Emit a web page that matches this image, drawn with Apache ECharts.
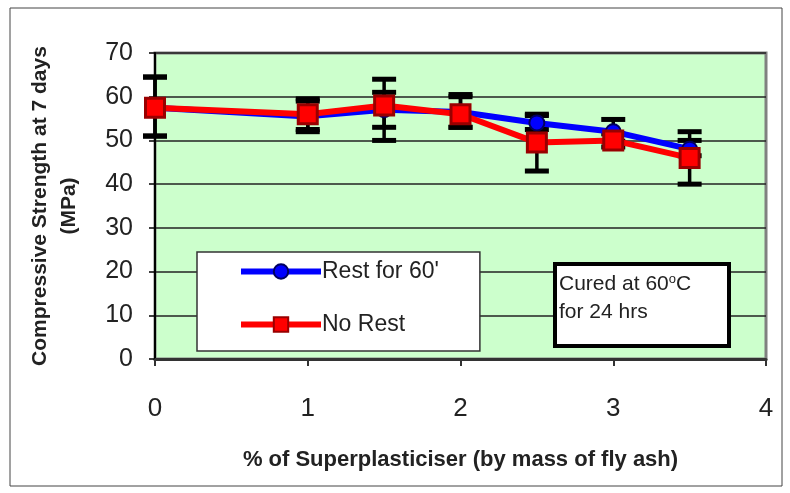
<!DOCTYPE html>
<html>
<head>
<meta charset="utf-8">
<script src="https://cdn.jsdelivr.net/npm/echarts@6/dist/echarts.min.js"></script>
<style>html,body{margin:0;padding:0;background:#fff;}#c{width:790px;height:493px;}</style>
</head>
<body>
<div id="c"></div>
<script>
var xValues = [0, 1, 1.5, 2, 2.5, 3, 3.5];
var restValues = [57.5, 55.5, 57, 56.5, 54, 52, 48];
var noRestValues = [57.5, 56, 58, 56, 49.5, 50, 46];
var restLow = [51, 52, 53, 53, 52.5, 49.8, 46.5];
var restHigh = [64.5, 59.5, 61, 60.5, 55.7, 54.8, 52];
var noRestLow = [51, 52.5, 50, 53, 43, 48.5, 40];
var noRestHigh = [64.5, 59, 64, 60, 56, 51.5, 50];
var xTicks = [0, 1, 2, 3, 4];
var yTicks = [0, 10, 20, 30, 40, 50, 60, 70];

var FONT = 'Liberation Sans, Arial, sans-serif';

function pairs(xs, ys) { return xs.map(function (x, i) { return [x, ys[i]]; }); }
function errData(xs, lo, hi) { return xs.map(function (x, i) { return [x, lo[i], hi[i]]; }); }

function renderErr(params, api) {
  var x = api.value(0), lo = api.value(1), hi = api.value(2);
  var pHi = api.coord([x, hi]);
  var pLo = api.coord([x, lo]);
  var hw = 12;
  return {
    type: 'group',
    children: [
      { type: 'line', shape: { x1: pHi[0], y1: pHi[1], x2: pLo[0], y2: pLo[1] }, style: { stroke: '#000', lineWidth: 3.5 } },
      { type: 'line', shape: { x1: pHi[0] - hw, y1: pHi[1], x2: pHi[0] + hw, y2: pHi[1] }, style: { stroke: '#000', lineWidth: 5 } },
      { type: 'line', shape: { x1: pLo[0] - hw, y1: pLo[1], x2: pLo[0] + hw, y2: pLo[1] }, style: { stroke: '#000', lineWidth: 5 } }
    ]
  };
}

var chart = echarts.init(document.getElementById('c'), null, { renderer: 'canvas' });
chart.setOption({
  animation: false,
  backgroundColor: '#fff',
  grid: { left: 155, right: 24, top: 53, bottom: 134, outerBoundsMode: 'none', containLabel: false, show: true, backgroundColor: '#CCFFCC', borderColor: '#808080', borderWidth: 3 },
  xAxis: {
    type: 'value', min: 0, max: 4, interval: 1,
    name: '% of Superplasticiser (by mass of fly ash)', nameLocation: 'middle', nameGap: 90,
    nameTextStyle: { fontFamily: FONT, fontSize: 22, fontWeight: 'bold', color: '#222' },
    axisLine: { lineStyle: { color: '#333', width: 3 } },
    axisTick: { show: true, length: 7, lineStyle: { color: '#333', width: 2 } },
    axisLabel: { margin: 37, fontFamily: FONT, fontSize: 26, color: '#222',
      formatter: function (v) { return xTicks.indexOf(v) >= 0 ? String(v) : ''; } },
    splitLine: { show: false }
  },
  yAxis: {
    type: 'value', min: 0, max: 70, interval: 10,
    name: 'Compressive Strength at 7 days\n(MPa)', nameLocation: 'middle', nameGap: 71, nameRotate: 90,
    nameTextStyle: { fontFamily: FONT, fontSize: 21, fontWeight: 'bold', color: '#222', lineHeight: 29 },
    axisLine: { show: true, lineStyle: { color: '#000', width: 2 } },
    axisTick: { show: true, length: 6, lineStyle: { color: '#000', width: 1.5 } },
    axisLabel: { margin: 22, fontFamily: FONT, fontSize: 25, color: '#222',
      formatter: function (v) { return yTicks.indexOf(v) >= 0 ? String(v) : ''; } },
    splitLine: { show: true, lineStyle: { color: '#222', width: 1.5 } }
  },
  legend: {
    orient: 'vertical', left: 197, top: 252,
    backgroundColor: '#fff', borderColor: '#333', borderWidth: 1.5,
    padding: [8, 41, 15, 41], itemGap: 30, itemWidth: 80, itemHeight: 18,
    lineStyle: { width: 6 },
    textStyle: { fontFamily: FONT, fontSize: 23, color: '#222', padding: [0, 0, 0, -4] },
    data: ["Rest for 60'", 'No Rest']
  },
  series: [
    { name: 'errRest', type: 'custom', renderItem: renderErr, data: errData(xValues, restLow, restHigh), z: 2, encode: { x: 0, y: [1, 2] }, silent: true },
    { name: 'errNoRest', type: 'custom', renderItem: renderErr, data: errData(xValues, noRestLow, noRestHigh), z: 2, encode: { x: 0, y: [1, 2] }, silent: true },
    {
      name: "Rest for 60'", type: 'line', data: pairs(xValues, restValues), z: 3,
      symbol: 'circle', symbolSize: 15,
      lineStyle: { color: '#0000FF', width: 6 },
      itemStyle: { color: '#0000FF', borderColor: '#000060', borderWidth: 2 }
    },
    {
      name: 'No Rest', type: 'line', data: pairs(xValues, noRestValues), z: 4,
      symbol: 'rect', symbolSize: 19,
      lineStyle: { color: '#FF0000', width: 6 },
      itemStyle: { color: '#FF0000', borderColor: '#990000', borderWidth: 3 }
    }
  ],
  graphic: [
    { type: 'rect', shape: { x: 10, y: 8, width: 772, height: 478 }, style: { fill: 'none', stroke: '#444', lineWidth: 1 }, z: 100, silent: true },
    { type: 'rect', shape: { x: 555, y: 264, width: 174, height: 82 }, style: { fill: '#fff', stroke: '#000', lineWidth: 4 }, z: 50 },
    { type: 'text', x: 559, y: 273, z: 51,
      style: { text: '{a|Cured at 60}{s|o}{a|C}', fill: '#222',
        rich: { a: { fontFamily: FONT, fontSize: 21, fill: '#222' }, s: { fontFamily: FONT, fontSize: 13, fill: '#222', verticalAlign: 'top', padding: [0, 0, 10, 0] } } } },
    { type: 'text', x: 559, y: 302, z: 51, style: { text: 'for 24 hrs', fontFamily: FONT, fontSize: 21, fill: '#222' } }
  ]
});
</script>
</body>
</html>
